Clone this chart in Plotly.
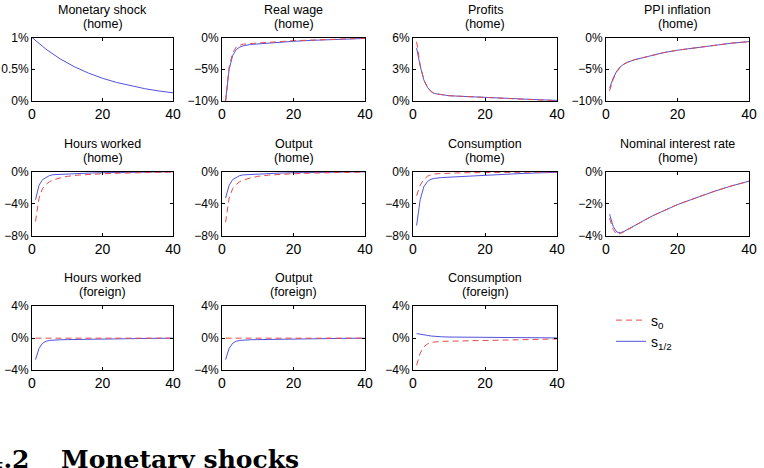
import plotly.graph_objects as go

W, H = 764, 468

t_shock = [0, 4, 8, 12, 16, 20, 24, 28, 32, 36, 40]
t = [1, 2, 3, 4, 5, 6, 8, 10, 13, 16, 20, 25, 30, 35, 40]

# responses in percent; s0 = red dashed, s12 = blue solid
shock_s12 = [1.0, 0.815, 0.663, 0.54, 0.44, 0.358, 0.292, 0.238, 0.194, 0.158, 0.129]

wage_s0 = [-10, -4.6, -2.4, -1.5, -1.2, -1.05, -0.95, -0.85, -0.75, -0.65, -0.5, -0.4, -0.3, -0.2, -0.12]
wage_s12 = [-10, -5.0, -2.8, -1.9, -1.5, -1.3, -1.1, -1.0, -0.85, -0.75, -0.6, -0.45, -0.35, -0.25, -0.15]

profit_s0 = [5.6, 3.4, 2.0, 1.3, 0.9, 0.7, 0.6, 0.5, 0.45, 0.4, 0.3, 0.22, 0.15, 0.1, 0.04]
profit_s12 = [5.0, 3.3, 2.0, 1.3, 0.9, 0.7, 0.6, 0.5, 0.45, 0.4, 0.3, 0.25, 0.17, 0.12, 0.06]

ppi_s0 = [-8.4, -6.6, -5.4, -4.7, -4.2, -3.9, -3.5, -3.2, -2.8, -2.4, -2.0, -1.6, -1.2, -0.9, -0.65]
ppi_s12 = [-8.0, -6.4, -5.3, -4.6, -4.2, -3.9, -3.5, -3.2, -2.8, -2.4, -2.0, -1.6, -1.2, -0.9, -0.65]

hours_h_s0 = [-6.2, -3.3, -2.1, -1.6, -1.25, -1.05, -0.8, -0.6, -0.45, -0.35, -0.28, -0.2, -0.15, -0.1, -0.07]
hours_h_s12 = [-3.5, -1.7, -1.0, -0.7, -0.5, -0.4, -0.35, -0.3, -0.25, -0.2, -0.15, -0.1, -0.08, -0.05, -0.04]

output_h_s0 = [-6.3, -3.3, -2.1, -1.6, -1.25, -1.05, -0.8, -0.6, -0.45, -0.35, -0.28, -0.2, -0.15, -0.1, -0.07]
output_h_s12 = [-3.3, -1.7, -1.0, -0.7, -0.5, -0.42, -0.36, -0.3, -0.25, -0.2, -0.15, -0.1, -0.08, -0.05, -0.04]

cons_h_s0 = [-3.0, -1.7, -1.0, -0.6, -0.4, -0.3, -0.25, -0.2, -0.17, -0.15, -0.12, -0.1, -0.09, -0.08, -0.07]
cons_h_s12 = [-6.7, -3.5, -1.9, -1.25, -0.95, -0.85, -0.75, -0.7, -0.6, -0.52, -0.45, -0.35, -0.25, -0.17, -0.1]

rate_s0 = [-2.9, -3.6, -3.9, -3.85, -3.74, -3.62, -3.34, -3.1, -2.75, -2.45, -2.05, -1.65, -1.25, -0.9, -0.6]
rate_s12 = [-2.65, -3.4, -3.75, -3.8, -3.72, -3.6, -3.33, -3.1, -2.75, -2.45, -2.05, -1.65, -1.25, -0.9, -0.6]

hours_f_s0 = [-0.02] * 15
hours_f_s12 = [-2.7, -1.3, -0.65, -0.4, -0.3, -0.25, -0.22, -0.2, -0.17, -0.14, -0.12, -0.08, -0.05, -0.04, -0.03]

output_f_s0 = [-0.02] * 15
output_f_s12 = [-2.7, -1.3, -0.65, -0.4, -0.3, -0.25, -0.22, -0.2, -0.17, -0.14, -0.12, -0.08, -0.05, -0.04, -0.03]

cons_f_s0 = [-3.4, -1.9, -1.1, -0.75, -0.55, -0.48, -0.42, -0.4, -0.37, -0.34, -0.3, -0.25, -0.2, -0.15, -0.12]
cons_f_s12 = [0.55, 0.5, 0.42, 0.33, 0.25, 0.2, 0.15, 0.12, 0.1, 0.08, 0.06, 0.04, 0.03, 0.02, 0.01]

titles = ["Monetary shock", "Real wage", "Profits", "PPI inflation",
          "Hours worked", "Output", "Consumption", "Nominal interest rate",
          "Hours worked", "Output", "Consumption"]
regions = ["(home)"] * 8 + ["(foreign)"] * 3

y_ticks = [[0, 0.5, 1], [-10, -5, 0], [0, 3, 6], [-10, -5, 0],
           [-8, -4, 0], [-8, -4, 0], [-8, -4, 0], [-4, -2, 0],
           [-4, 0, 4], [-4, 0, 4], [-4, 0, 4]]
y_ticktext = [["0%", "0.5%", "1%"], ["−10%", "−5%", "0%"], ["0%", "3%", "6%"], ["−10%", "−5%", "0%"],
              ["−8%", "−4%", "0%"], ["−8%", "−4%", "0%"], ["−8%", "−4%", "0%"], ["−4%", "−2%", "0%"],
              ["−4%", "0%", "4%"], ["−4%", "0%", "4%"], ["−4%", "0%", "4%"]]
x_ticks = [0, 20, 40]

series = [(None, shock_s12), (wage_s0, wage_s12), (profit_s0, profit_s12), (ppi_s0, ppi_s12),
          (hours_h_s0, hours_h_s12), (output_h_s0, output_h_s12), (cons_h_s0, cons_h_s12),
          (rate_s0, rate_s12), (hours_f_s0, hours_f_s12), (output_f_s0, output_f_s12),
          (cons_f_s0, cons_f_s12)]

RED, BLUE = "#e34b4b", "#5252dc"
FONT = "Liberation Sans, Arial, sans-serif"

# panel boxes in pixels (MATLAB subplot grid)
col_left = [32, 222, 413, 606]
col_right = [173, 365, 557, 749]
row_top = [37.5, 171.5, 306]
row_bottom = [101, 236, 370]

fig = go.Figure()
annotations = []
layout = {}
for i, (s0, s12) in enumerate(series):
    r, c = divmod(i, 4)
    n = "" if i == 0 else str(i + 1)
    xa, ya = "x" + n, "y" + n
    xs = t_shock if s0 is None else t
    fig.add_trace(go.Scatter(x=xs, y=s12, xaxis=xa, yaxis=ya, mode="lines",
                             line=dict(color=BLUE, width=1), name="s<sub>1/2</sub>",
                             legendrank=2, showlegend=(i == 1)))
    if s0 is not None:
        fig.add_trace(go.Scatter(x=xs, y=s0, xaxis=xa, yaxis=ya, mode="lines",
                                 line=dict(color=RED, width=1, dash="6px,4px"), name="s<sub>0</sub>",
                                 legendrank=1, showlegend=(i == 1)))
    axis_style = dict(showgrid=False, zeroline=False, showline=True, mirror="ticks",
                      linecolor="black", linewidth=1, ticks="inside", ticklen=3,
                      tickcolor="black", tickwidth=1, automargin=False)
    yr = y_ticks[i]
    layout["xaxis" + n] = dict(axis_style, domain=[col_left[c] / W, col_right[c] / W],
                               range=[0, 40], tickvals=x_ticks, anchor=ya,
                               tickfont=dict(size=14, family=FONT, color="black"))
    layout["yaxis" + n] = dict(axis_style, domain=[1 - row_bottom[r] / H, 1 - row_top[r] / H],
                               range=[yr[0], yr[-1]], tickvals=yr, ticktext=y_ticktext[i],
                               anchor=xa, tickfont=dict(size=12, family=FONT, color="black"))
    xc = (col_left[c] + col_right[c]) / 2 / W
    for text, off in ((titles[i], 28), (regions[i], 14)):
        annotations.append(dict(text=text, x=xc, y=1 - (row_top[r] - off) / H, xref="paper",
                                yref="paper", showarrow=False, xanchor="center", yanchor="middle",
                                font=dict(size=12.5, family=FONT, color="black")))

# section heading below the figure (cut by the page edge, as in the source)
annotations.append(dict(text="<b>4.2</b>", x=32 / W, y=1 - 459 / H, xref="paper", yref="paper",
                        showarrow=False, xanchor="right", yanchor="middle",
                        font=dict(size=25, family="DejaVu Serif", color="black")))
annotations.append(dict(text="<b>Monetary shocks</b>", x=59 / W, y=1 - 459 / H, xref="paper",
                        yref="paper", showarrow=False, xanchor="left", yanchor="middle",
                        font=dict(size=25, family="DejaVu Serif", color="black")))

fig.update_layout(
    width=W, height=H, margin=dict(l=0, r=0, t=0, b=0, autoexpand=False),
    paper_bgcolor="white", plot_bgcolor="white",
    annotations=annotations,
    legend=dict(x=611 / W, y=1 - 304.5 / H, xanchor="left", yanchor="top",
                traceorder="normal", itemwidth=30,
                bgcolor="rgba(0,0,0,0)", font=dict(size=14, family=FONT, color="black")),
    **layout,
)

# the page's default body margin would shift the figure by 8px
fig.write_html("out.html", config={"displayModeBar": False},
               post_script="document.body.style.margin='0';")
